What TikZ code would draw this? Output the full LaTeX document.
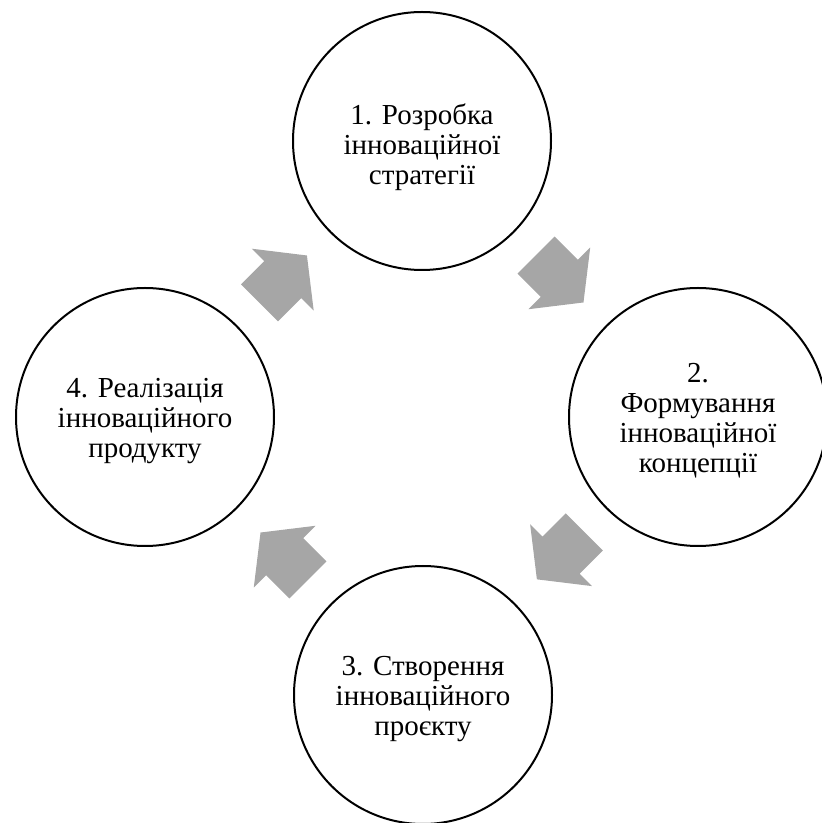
\documentclass[tikz,border=0pt]{standalone}
\usepackage{fontspec}
\setmainfont{Liberation Serif}
\usetikzlibrary{shapes.arrows,calc}

% taller first line pushes the text a bit lower in the circle
\newcommand{\stagepad}[1][27pt]{\rule{0pt}{#1}}

\begin{document}
\begin{tikzpicture}[x=1pt,y=1pt]

  \tikzstyle{stage}=[circle,draw=black,line width=2pt,minimum size=258pt,inner sep=0pt,align=center,font=\fontsize{29}{30}\selectfont]
  \tikzstyle{flow}=[single arrow,fill=black!35,draw=none,minimum height=67pt,single arrow head extend=17.5pt,single arrow tip angle=104,inner xsep=0pt,inner ysep=26pt,anchor=tail]

  \useasboundingbox (0,0) rectangle (822,823);

  \node[stage] (s1) at (422,682) {\stagepad[34pt]1. Розробка\\інноваційної\\стратегії};
  \node[stage] (s2) at (698,406) {\stagepad2.\\Формування\\інноваційної\\концепції};
  \node[stage] (s3) at (423,128) {\stagepad3. Створення\\інноваційного\\проєкту};
  \node[stage] (s4) at (145,406) {\stagepad4. Реалізація\\інноваційного\\продукту};

  % tails sit half an arrow before the midpoint
  \node[flow, rotate=-45]  (a12) at ($(s1)!0.5!(s2)!34pt!(s1)$) {};
  \node[flow, rotate=-135] (a23) at ($(s2)!0.5!(s3)!34pt!(s2)$) {};
  \node[flow, rotate=135]  (a34) at ($(s3)!0.5!(s4)!34pt!(s3)$) {};
  \node[flow, rotate=45]   (a41) at ($(s4)!0.5!(s1)!34pt!(s4)$) {};

\end{tikzpicture}
\end{document}
